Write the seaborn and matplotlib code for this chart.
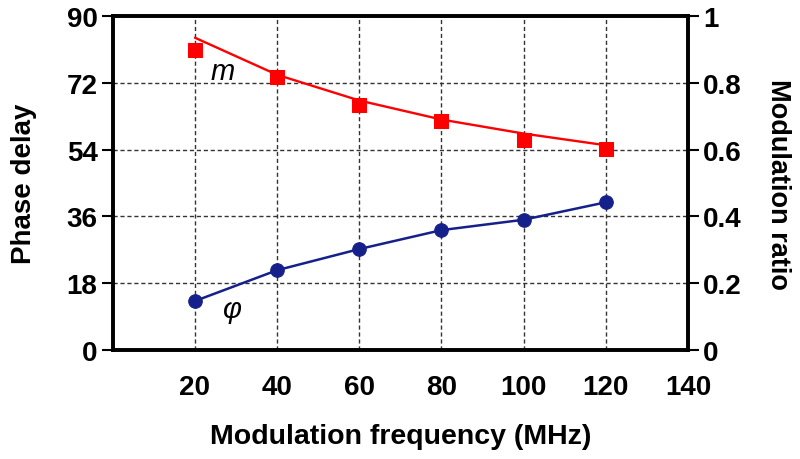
import numpy as np
import pandas as pd
import matplotlib
matplotlib.use("Agg")
import matplotlib.pyplot as plt
import seaborn as sns

sns.set_style("white")
plt.rcParams['font.family'] = ['Liberation Sans', 'DejaVu Sans']
plt.rcParams['text.color'] = 'black'
plt.rcParams['axes.labelcolor'] = 'black'

freq = [20, 40, 60, 80, 100, 120]
phase = [13.2, 21.5, 27.2, 32.3, 35.1, 39.8]
ratio = [0.899, 0.817, 0.734, 0.686, 0.628, 0.603]
ratio_fit = [0.935, 0.824, 0.747, 0.690, 0.648, 0.613]

x_ticks = [20, 40, 60, 80, 100, 120, 140]
left_ticks = [0, 18, 36, 54, 72, 90]
right_ticks = [0, 0.2, 0.4, 0.6, 0.8, 1]
right_labels = ["0", "0.2", "0.4", "0.6", "0.8", "1"]

red = "#ff0000"
navy = "#16208a"

df = pd.DataFrame({"freq": freq, "phase": phase, "ratio": ratio, "fit": ratio_fit})

fig = plt.figure(figsize=(8, 4.6), dpi=100)
ax = fig.add_axes([0.141, 0.237, 0.719, 0.726])
ax2 = ax.twinx()

sns.lineplot(data=df, x="freq", y="phase", ax=ax, color=navy, lw=1.8, zorder=3)
sns.scatterplot(data=df, x="freq", y="phase", ax=ax, color=navy, marker="o",
                s=95, edgecolor=navy, zorder=4)

sns.lineplot(data=df, x="freq", y="fit", ax=ax2, color=red, lw=1.7, zorder=3)
sns.scatterplot(data=df, x="freq", y="ratio", ax=ax2, color=red, marker="s",
                s=90, edgecolor=red, zorder=4)

ax.set_xlim(0, 140)
ax.set_ylim(0, 90)
ax2.set_ylim(0, 1)
ax.set_xticks(x_ticks)
ax.set_xticks([0], minor=True)
ax.set_yticks(left_ticks)
ax2.set_yticks(right_ticks)
ax2.set_yticklabels(right_labels)

ax.grid(True, which="major", color="#333333", ls=(0, (3, 2)), lw=1.0)
ax.set_axisbelow(True)

for a in (ax, ax2):
    for s in a.spines.values():
        s.set_linewidth(2.6)
        s.set_color("black")

ax.tick_params(axis="y", direction="out", length=8, width=1.5,
               labelsize=20, colors="black", pad=3)
ax.tick_params(axis="x", which="both", direction="out", length=8, width=1.5,
               labelsize=20, colors="black", pad=9)
ax2.tick_params(axis="y", direction="out", length=8, width=1.5, labelsize=20,
                colors="black", pad=3)
for lbl in ax.get_xticklabels() + ax.get_yticklabels() + ax2.get_yticklabels():
    lbl.set_fontweight("bold")

ax.set_xlabel("Modulation frequency (MHz)", fontsize=20.5, fontweight="bold", va="center")
ax.xaxis.set_label_coords(0.5, -0.257)
ax.set_ylabel("Phase delay", fontsize=20, fontweight="bold", va="center")
ax.yaxis.set_label_coords(-0.155, 0.5)
ax2.set_ylabel("Modulation ratio", fontsize=19.5, fontweight="bold", rotation=-90, va="center")
ax2.yaxis.set_label_coords(1.157, 0.5)

ax.text(26.7, 75.2, "m", fontsize=21, style="italic", ha="center", va="center")
ax.text(29.1, 11.0, "φ", fontsize=21, style="italic", ha="center", va="center")

fig.savefig("out.png", dpi=100)
